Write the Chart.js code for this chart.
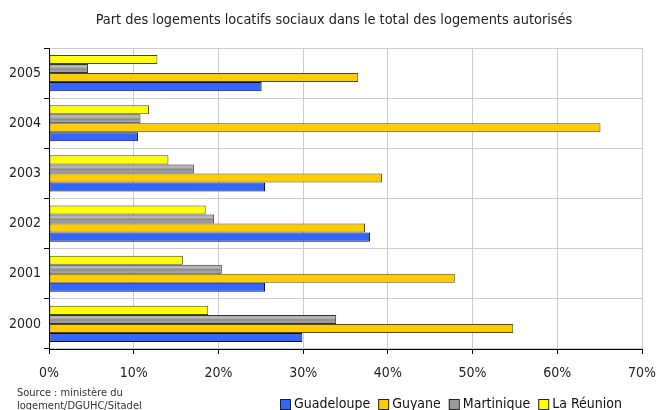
<!DOCTYPE html>
<html>
<head>
<meta charset="utf-8">
<script src="https://cdn.jsdelivr.net/npm/chart.js@4/dist/chart.umd.min.js"></script>
<style>
  html, body { margin: 0; padding: 0; background: #fff; }
  #wrap { width: 658px; height: 410px; position: relative; }
</style>
</head>
<body>
<div id="wrap"><canvas id="chart"></canvas></div>
<script>
const FONT = "'DejaVu Sans Condensed', 'Liberation Sans', sans-serif";

const TITLE = 'Part des logements locatifs sociaux dans le total des logements autorisés';
const years = ['2000', '2001', '2002', '2003', '2004', '2005'];
const guadeloupe = [29.9, 25.5, 37.9, 25.5, 10.5, 25.1];
const guyane     = [54.8, 47.9, 37.3, 39.3, 65.1, 36.5];
const martinique = [33.9, 20.4, 19.5, 17.1, 10.8, 4.6];
const reunion    = [18.8, 15.8, 18.5, 14.1, 11.8, 12.8];
const xTicks = [0, 10, 20, 30, 40, 50, 60, 70];

// dataset 0 sits at the top of each group, so list them top to bottom
const series = [
  { label: 'La Réunion', data: reunion,    color: '#ffff00', border: '#444' },
  { label: 'Martinique', data: martinique, color: '#9a9a9a', border: '#333', striped: true },
  { label: 'Guyane',     data: guyane,     color: '#ffcc00', border: '#4a4a2a' },
  { label: 'Guadeloupe', data: guadeloupe, color: '#3366ff', border: '#111' },
];

// grey bars have a metallic stripe look (options are shared/frozen, so copy them)
const stripes = {
  id: 'stripes',
  beforeDatasetsDraw(chart) {
    const ctx = chart.ctx;
    chart.data.datasets.forEach((ds, i) => {
      if (!ds.striped) return;
      chart.getDatasetMeta(i).data.forEach(bar => {
        const top = bar.y - bar.height / 2, bottom = bar.y + bar.height / 2;
        const g = ctx.createLinearGradient(0, top, 0, bottom);
        g.addColorStop(0, '#9a9a9a');
        g.addColorStop(0.3, '#bdbdbd');
        g.addColorStop(0.55, '#8a8a8a');
        g.addColorStop(0.8, '#a6a6a6');
        g.addColorStop(1, '#6a6a6a');
        bar.options = Object.assign({}, bar.options, { backgroundColor: g });
      });
    });
  }
};

const notes = {
  id: 'notes',
  afterDraw(chart) {
    const ctx = chart.ctx;
    ctx.save();
    ctx.textBaseline = 'middle';

    ctx.font = '14.4px ' + FONT;
    ctx.fillStyle = '#222';
    ctx.textAlign = 'center';
    ctx.fillText(TITLE, 334, 20);
    ctx.textAlign = 'left';

    ctx.font = '11px ' + FONT;
    ctx.fillStyle = '#333';
    ctx.fillText('Source : ministère du', 17, 393);
    ctx.fillText('logement/DGUHC/Sitadel', 17, 406);

    // legend, Guadeloupe first
    ctx.font = '14px ' + FONT;
    let x = 280;
    const y = 404;
    chart.data.datasets.slice().reverse().forEach(ds => {
      ctx.fillStyle = ds.backgroundColor;
      ctx.fillRect(x, y - 5, 10, 10);
      ctx.strokeStyle = '#222';
      ctx.lineWidth = 1;
      ctx.strokeRect(x + 0.5, y - 4.5, 10, 10);
      ctx.fillStyle = '#111';
      ctx.fillText(ds.label, x + 14, y);
      x += 14 + ctx.measureText(ds.label).width + 8;
    });
    ctx.restore();
  }
};

new Chart(document.getElementById('chart'), {
  type: 'bar',
  data: {
    labels: years,
    datasets: series.map(s => ({
      label: s.label,
      data: s.data,
      striped: !!s.striped,
      backgroundColor: s.color,
      borderColor: s.border,
      borderWidth: 1,
      borderSkipped: false,
      categoryPercentage: 0.72,
      barPercentage: 1,
    })),
  },
  options: {
    indexAxis: 'y',
    responsive: true,
    maintainAspectRatio: false,
    animation: false,
    layout: { padding: { left: 0, right: 16, top: 48, bottom: 23 } },
    plugins: {
      title: { display: false },
      legend: { display: false },
      tooltip: { enabled: false },
    },
    scales: {
      x: {
        min: 0,
        max: 70,
        afterBuildTicks(scale) { scale.ticks = xTicks.map(v => ({ value: v })); },
        afterFit(scale) { scale.height = 38; scale.paddingLeft = 0; scale.paddingRight = 0; },
        ticks: {
          color: '#222',
          font: { family: FONT, size: 14 },
          padding: 11,
          callback: v => v + '%',
        },
        grid: { color: '#cccccc', tickColor: '#000', tickLength: 5 },
        border: { color: '#000' },
      },
      y: {
        reverse: true,
        afterFit(scale) { scale.width = 49; },
        ticks: {
          color: '#222',
          font: { family: FONT, size: 14 },
          padding: 3,
        },
        grid: { color: '#cccccc', tickColor: '#000', tickLength: 5 },
        border: { color: '#000' },
      },
    },
  },
  plugins: [stripes, notes],
});
</script>
</body>
</html>
